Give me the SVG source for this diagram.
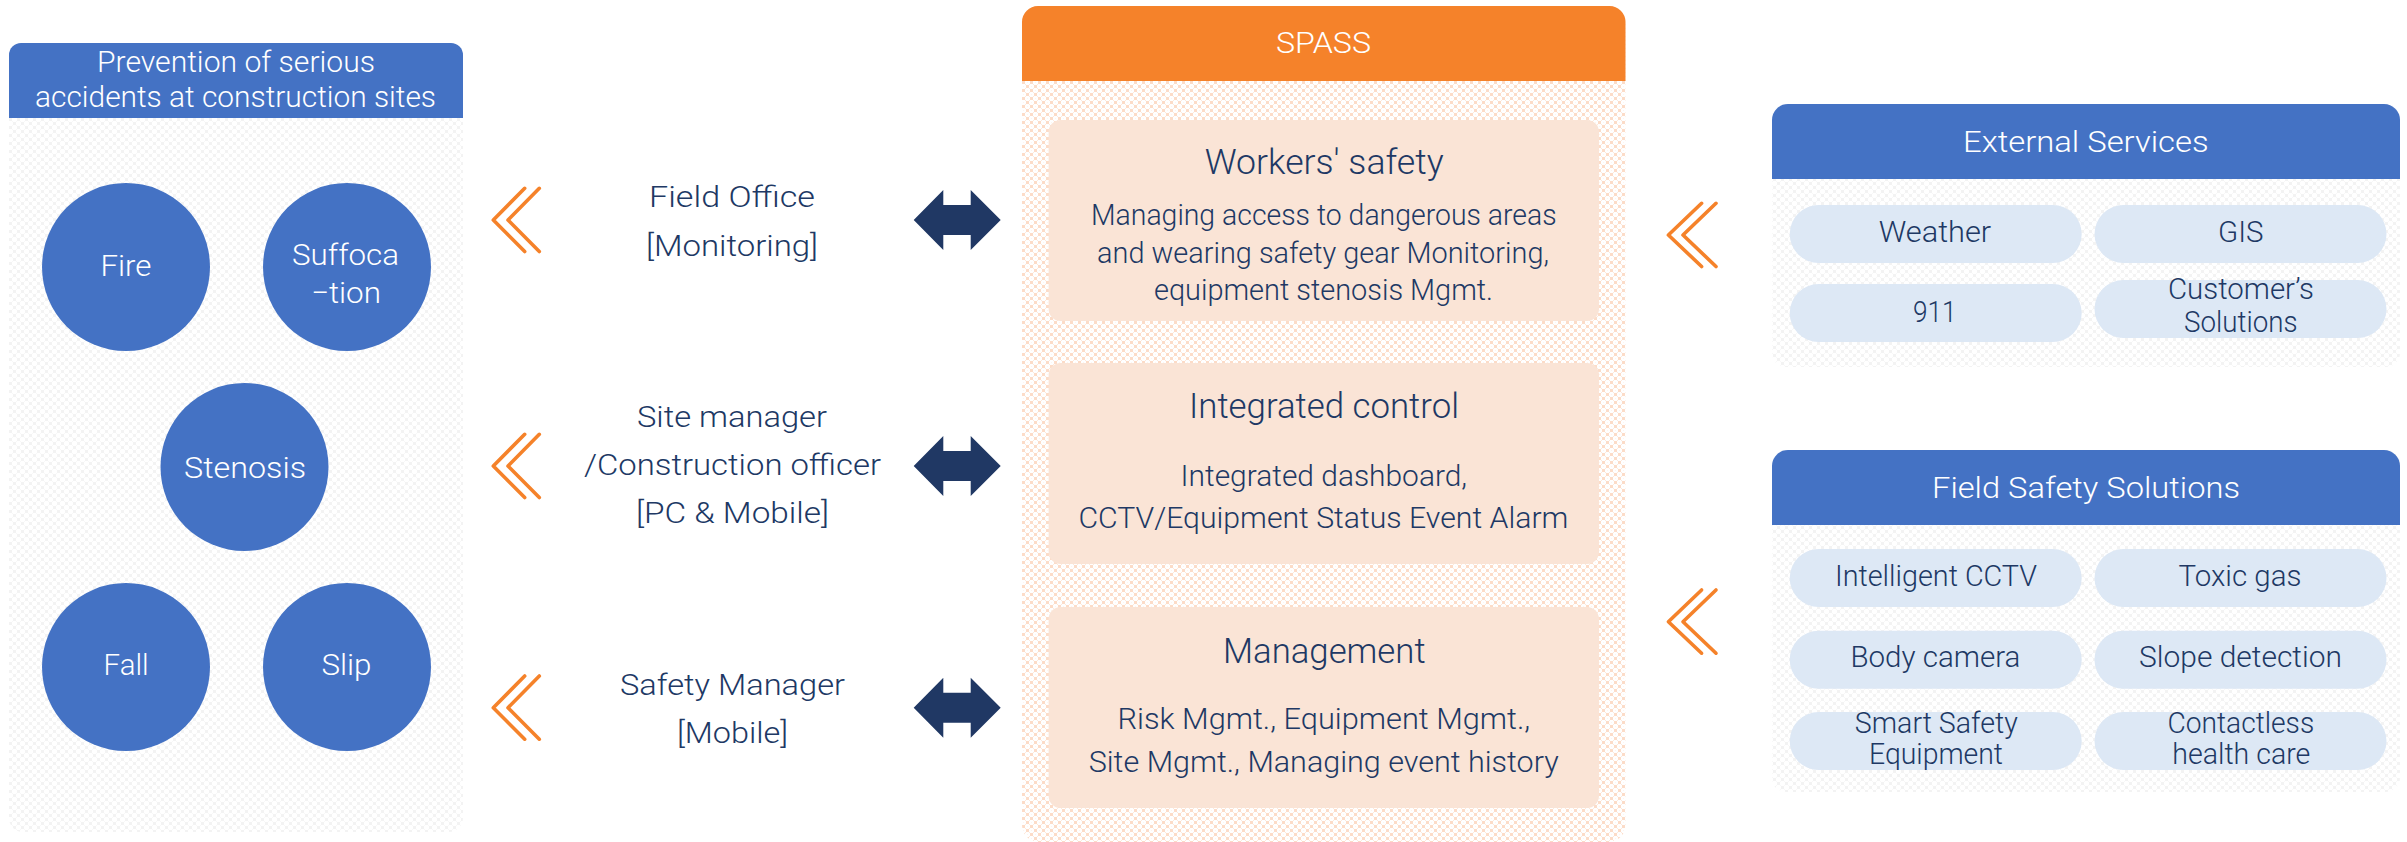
<svg xmlns="http://www.w3.org/2000/svg" width="2407" height="842" viewBox="0 0 2407 842">
<style>
text{font-family:Roboto,"Noto Sans","Liberation Sans",sans-serif;font-weight:300;font-size:30px;fill:#203864}
.w{fill:#fff}
.h{font-size:35px}
.blue{fill:#4472c4}
.org{fill:#f5822a}
.card{fill:#fae4d6}
.pill{fill:#dde8f5}
.ch{fill:none;stroke:#f5822a;stroke-width:3.6;stroke-linecap:round;stroke-linejoin:round}
.dbl{fill:#203864}
</style>
<defs>
<pattern id="po" width="8" height="8" patternUnits="userSpaceOnUse" x="1022" y="81">
<rect width="8" height="8" fill="#fff"/>
<rect x="0" y="0" width="3" height="3" fill="#fcdcc8"/><rect x="4" y="4" width="3" height="3" fill="#fcdcc8"/>
<rect x="3" y="3" width="1" height="1" fill="#fde9dc"/><rect x="7" y="7" width="1" height="1" fill="#fde9dc"/><rect x="3" y="7" width="1" height="1" fill="#fde9dc"/><rect x="7" y="3" width="1" height="1" fill="#fde9dc"/>
<rect x="5" y="1" width="1" height="1" fill="#fef5ef"/><rect x="1" y="5" width="1" height="1" fill="#fef5ef"/>
</pattern>
<pattern id="pg" width="8" height="8" patternUnits="userSpaceOnUse" x="9" y="118">
<rect width="8" height="8" fill="#fff"/>
<rect x="0" y="0" width="3" height="3" fill="#f3f3f3"/><rect x="4" y="4" width="3" height="3" fill="#f3f3f3"/>
<rect x="3" y="3" width="1" height="1" fill="#f8f8f8"/><rect x="7" y="7" width="1" height="1" fill="#f8f8f8"/><rect x="3" y="7" width="1" height="1" fill="#f8f8f8"/><rect x="7" y="3" width="1" height="1" fill="#f8f8f8"/>
</pattern>
</defs>
<g id="panel-prevention">
<rect x="9" y="43" width="454" height="789" rx="14" fill="url(#pg)"/>
<path class="blue" d="M9 118V55a12 12 0 0 1 12-12H451a12 12 0 0 1 12 12V118Z"/>
<text class="w" x="97" y="71.7" textLength="278" lengthAdjust="spacingAndGlyphs">Prevention of serious</text>
<text class="w" x="35" y="106.7" textLength="401" lengthAdjust="spacingAndGlyphs">accidents at construction sites</text>
</g>
<g id="node-fire"><circle class="blue" cx="126" cy="267" r="84"/><text class="w" x="100.5" y="275.7" textLength="51" lengthAdjust="spacingAndGlyphs">Fire</text></g>
<g id="node-suffocation"><circle class="blue" cx="347" cy="267" r="84"/><text class="w" x="292" y="265" textLength="107" lengthAdjust="spacingAndGlyphs">Suffoca</text><text class="w" x="311" y="302.7" textLength="70" lengthAdjust="spacingAndGlyphs">−tion</text></g>
<g id="node-stenosis"><circle class="blue" cx="244.5" cy="467" r="84"/><text class="w" x="184" y="478" textLength="122" lengthAdjust="spacingAndGlyphs">Stenosis</text></g>
<g id="node-fall"><circle class="blue" cx="126" cy="667" r="84"/><text class="w" x="103.6" y="675" textLength="45" lengthAdjust="spacingAndGlyphs">Fall</text></g>
<g id="node-slip"><circle class="blue" cx="347" cy="667" r="84"/><text class="w" x="321.4" y="675" textLength="50" lengthAdjust="spacingAndGlyphs">Slip</text></g>
<g id="node-field-office">
<text x="649" y="206.7" textLength="166" lengthAdjust="spacingAndGlyphs">Field Office</text>
<text x="646" y="256" textLength="172" lengthAdjust="spacingAndGlyphs">[Monitoring]</text>
</g>
<g id="node-site-manager">
<text x="637" y="427" textLength="190" lengthAdjust="spacingAndGlyphs">Site manager</text>
<text x="584" y="475" textLength="297" lengthAdjust="spacingAndGlyphs">/Construction officer</text>
<text x="636" y="522.7" textLength="193" lengthAdjust="spacingAndGlyphs">[PC &amp; Mobile]</text>
</g>
<g id="node-safety-manager">
<text x="620" y="695" textLength="225" lengthAdjust="spacingAndGlyphs">Safety Manager</text>
<text x="677" y="743" textLength="111" lengthAdjust="spacingAndGlyphs">[Mobile]</text>
</g>
<g id="panel-spass">
<rect x="1022" y="6" width="603.5" height="836" rx="17" fill="url(#po)"/>
<path class="org" d="M1022 81V22a16 16 0 0 1 16-16H1609.500a16 16 0 0 1 16 16V81Z"/>
<text class="w" x="1276" y="53" textLength="95" lengthAdjust="spacingAndGlyphs">SPASS</text>
</g>
<g id="node-workers-safety">
<rect class="card" x="1048.600" y="120" width="550.400" height="201" rx="12"/>
<text class="h" x="1204.700" y="174" textLength="239" lengthAdjust="spacingAndGlyphs">Workers' safety</text>
<text x="1091" y="225" textLength="465.600" lengthAdjust="spacingAndGlyphs">Managing access to dangerous areas</text>
<text x="1097" y="263" textLength="452" lengthAdjust="spacingAndGlyphs">and wearing safety gear Monitoring,</text>
<text x="1154" y="300" textLength="339" lengthAdjust="spacingAndGlyphs">equipment stenosis Mgmt.</text>
</g>
<g id="node-integrated-control">
<rect class="card" x="1048.600" y="363" width="550.400" height="201" rx="12"/>
<text class="h" x="1189" y="418" textLength="270" lengthAdjust="spacingAndGlyphs">Integrated control</text>
<text x="1180.600" y="486" textLength="286.500" lengthAdjust="spacingAndGlyphs">Integrated dashboard,</text>
<text x="1078.400" y="528" textLength="490" lengthAdjust="spacingAndGlyphs">CCTV/Equipment Status Event Alarm</text>
</g>
<g id="node-management">
<rect class="card" x="1048.600" y="607" width="550.400" height="201" rx="12"/>
<text class="h" x="1223" y="662.700" textLength="202.600" lengthAdjust="spacingAndGlyphs">Management</text>
<text x="1117.500" y="729" textLength="412.700" lengthAdjust="spacingAndGlyphs">Risk Mgmt., Equipment Mgmt.,</text>
<text x="1088.700" y="771.700" textLength="470" lengthAdjust="spacingAndGlyphs">Site Mgmt., Managing event history</text>
</g>
<g id="panel-external">
<rect x="1772" y="104" width="628" height="263" rx="14" fill="url(#pg)"/>
<path class="blue" d="M1772 179V120a16 16 0 0 1 16-16H2384a16 16 0 0 1 16 16V179Z"/>
<text class="w" x="1963" y="151.700" textLength="245.600" lengthAdjust="spacingAndGlyphs">External Services</text>
</g>
<g id="node-weather"><rect class="pill" x="1789.700" y="205" width="292" height="58" rx="29"/><text x="1878.700" y="241.700" textLength="112.500" lengthAdjust="spacingAndGlyphs">Weather</text></g>
<g id="node-gis"><rect class="pill" x="2094.500" y="205" width="292" height="58" rx="29"/><text x="2218" y="241.700" textLength="45.500" lengthAdjust="spacingAndGlyphs">GIS</text></g>
<g id="node-911"><rect class="pill" x="1789.700" y="284" width="292" height="58" rx="29"/><text x="1913" y="321.700" textLength="43.500" lengthAdjust="spacingAndGlyphs">911</text></g>
<g id="node-customers"><rect class="pill" x="2094.500" y="280" width="292" height="58" rx="29"/><text x="2168" y="299.300" textLength="145.800" lengthAdjust="spacingAndGlyphs">Customer’s</text><text x="2184" y="331.700" textLength="113.500" lengthAdjust="spacingAndGlyphs">Solutions</text></g>
<g id="panel-field">
<rect x="1772" y="450" width="628" height="342" rx="14" fill="url(#pg)"/>
<path class="blue" d="M1772 525V466a16 16 0 0 1 16-16H2384a16 16 0 0 1 16 16V525Z"/>
<text class="w" x="1932" y="497.700" textLength="308" lengthAdjust="spacingAndGlyphs">Field Safety Solutions</text>
</g>
<g id="node-cctv"><rect class="pill" x="1789.700" y="549" width="292" height="58" rx="29"/><text x="1835" y="586" textLength="202" lengthAdjust="spacingAndGlyphs">Intelligent CCTV</text></g>
<g id="node-toxic"><rect class="pill" x="2094.500" y="549" width="292" height="58" rx="29"/><text x="2178.600" y="586" textLength="122.800" lengthAdjust="spacingAndGlyphs">Toxic gas</text></g>
<g id="node-body"><rect class="pill" x="1789.700" y="630.700" width="292" height="58" rx="29"/><text x="1850.400" y="666.700" textLength="170" lengthAdjust="spacingAndGlyphs">Body camera</text></g>
<g id="node-slope"><rect class="pill" x="2094.500" y="630.700" width="292" height="58" rx="29"/><text x="2139" y="666.700" textLength="203" lengthAdjust="spacingAndGlyphs">Slope detection</text></g>
<g id="node-smart"><rect class="pill" x="1789.700" y="712" width="292" height="58" rx="29"/><text x="1854.800" y="732.700" textLength="163" lengthAdjust="spacingAndGlyphs">Smart Safety</text><text x="1869" y="764" textLength="134" lengthAdjust="spacingAndGlyphs">Equipment</text></g>
<g id="node-contactless"><rect class="pill" x="2094.500" y="712" width="292" height="58" rx="29"/><text x="2167.400" y="732.700" textLength="146.800" lengthAdjust="spacingAndGlyphs">Contactless</text><text x="2172.300" y="764" textLength="138" lengthAdjust="spacingAndGlyphs">health care</text></g>
<g id="connectors">
<path class="ch" d="M524.700 188.300L493.300 220L524.700 251.500M539.300 188.300L508 220L539.300 251.500"/>
<path class="ch" d="M524.700 434.300L493.300 466L524.700 497.500M539.300 434.300L508 466L539.300 497.500"/>
<path class="ch" d="M524.700 676L493.300 707.700L524.700 739.200M539.300 676L508 707.700L539.300 739.200"/>
<path class="ch" d="M1701.600 203.300L1668.400 235L1701.600 266.500M1716 203.300L1683 235L1716 266.500"/>
<path class="ch" d="M1701.600 590L1668.400 621.700L1701.600 653.200M1716 590L1683 621.700L1716 653.200"/>
<path class="dbl" d="M913.700 220L943.300 190V205H970.700V190L1000.700 220L970.700 250V235H943.300V250Z"/>
<path class="dbl" d="M913.700 466L943.300 436V451H970.700V436L1000.700 466L970.700 496V481H943.300V496Z"/>
<path class="dbl" d="M913.700 707.700L943.300 677.700V692.700H970.700V677.700L1000.700 707.700L970.700 737.700V722.700H943.300V737.700Z"/>
</g>
</svg>
